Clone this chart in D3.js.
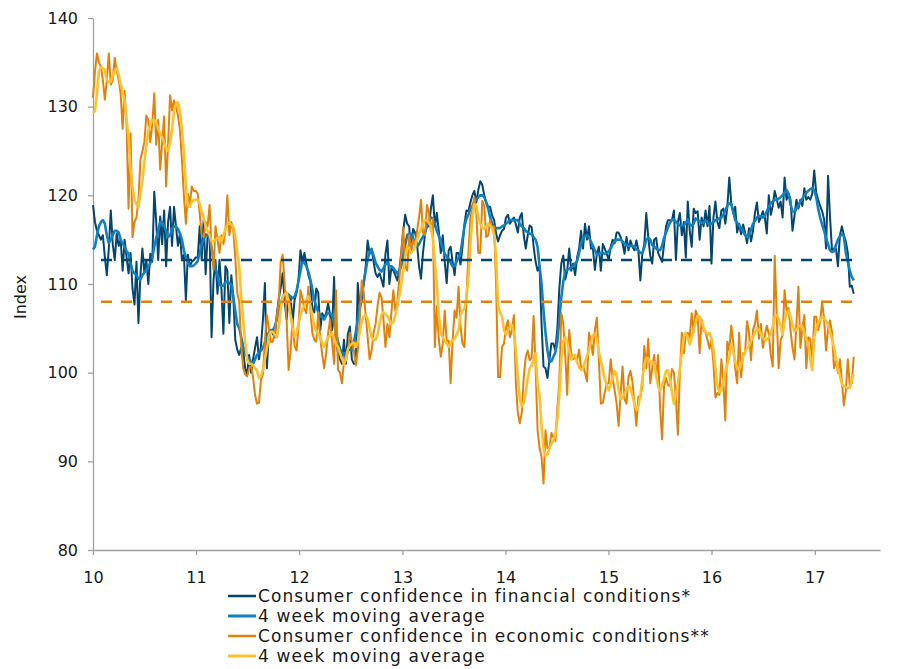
<!DOCTYPE html>
<html>
<head>
<meta charset="utf-8">
<script src="https://cdn.jsdelivr.net/npm/d3@7/dist/d3.min.js"></script>
<style>
  body { margin: 0; background: #fff; }
  svg { display: block; }
  .axis text { font-family: "DejaVu Sans", Verdana, sans-serif; font-size: 16px; fill: #1a1a1a; }
  .axis path, .axis line { stroke: #a0a0a0; stroke-width: 1.3; }
</style>
</head>
<body>
<svg id="chart" width="907" height="669"></svg>
<script>
// weekly series, first week of 2010 onwards
var financial = [
  118.9, 117, 116, 115.5, 115, 115.5, 113, 111, 114, 118.3,
  114.5, 112.7, 115.7, 114.3, 115, 111.5, 115, 113, 111.2, 113.5,
  109.5, 107.7, 112.5, 105.6, 111, 114, 111.3, 112.7, 110, 113.4,
  112.5, 120.4, 117, 112.7, 117.6, 114.5, 118.3, 112, 117, 118.7,
  114.3, 118.7, 116.5, 114.3, 115.7, 112.7, 113.3, 108.2, 113.3, 112,
  112.5, 112.7, 113, 113, 116.5, 112.7, 117.2, 111.1, 115.5, 115.8,
  104, 110.5, 112.7, 108.9, 112.7, 109.5, 104.4, 112, 111.5, 105.6,
  111, 108.6, 103.7, 102.6,
  102, 102.8, 102.5, 100.5, 99.8, 102, 100, 101.5, 102.8, 104,
  101.5, 103, 106, 110.1, 100.5, 104.5, 104.8, 104.4, 104, 106.5,
  108.3, 109.6, 111.2, 108, 106, 108.6, 108.6, 105.5, 108.2, 109,
  110.5, 113.8, 112.5, 113.5, 112.3, 111, 110.3, 107.2, 106.8, 109.5,
  109, 104.8, 106.7, 106.2, 106.7, 107.8, 106.5, 104.8, 110.8, 103.7,
  102.2, 101.5, 101, 103.7, 101, 104.4, 105.2, 101.5, 101, 101,
  110.1, 107.1, 108.2, 110, 112, 114.9, 113.4, 114, 112.5, 111.2,
  110.8, 111.2, 110.5, 109.7, 113.4, 114.9,
  110, 111.8, 111.5, 111, 110.4, 111.5, 113.5, 116, 117.8, 116.8,
  116.5, 113.5, 116.2, 115.8, 114.5, 112, 110.6, 113.5, 115.5, 117,
  116.5, 118.5, 120, 116.5, 118, 116, 113.5, 115.5, 112.5, 110.1,
  113.8, 114.2, 112.5, 111, 113.5, 113.5, 112.2, 114.2, 116.8, 118.3,
  118.2, 119.2, 120, 120.5, 119.2, 120.6, 121.6, 121.2, 120, 119.2,
  118.7, 118.7, 117.7, 117.2, 115.7, 114.8, 115.5, 116, 116.2, 117.5,
  117.8, 116.8, 117.2, 117.5, 116.7, 115.8, 117.5, 118, 115.5, 114,
  115.5, 116.6, 116.4, 114.2, 112.5, 111.5,
  112, 105.5, 100.7, 100.5, 99.4, 101.5, 103.3, 103.3, 102.5, 105,
  109.5, 112.3, 113.2, 110.5, 111.5, 114, 111.5, 112.3, 111, 113,
  114, 116, 114, 116.8, 115, 116.5, 114, 114, 111.6, 113.4,
  114.2, 111.5, 114.5, 114, 113.4, 112.7, 114.2, 115, 114.6, 115.8,
  115.8, 115.3, 114.6, 113.4, 115.3, 113.8, 114.9, 114.2, 113.8, 114.9,
  113.8, 110.4, 113.4, 114.5, 118, 115.3, 113.2, 112.3, 115, 115.2,
  113.5, 113, 112.5, 114.5, 116.5, 117.2, 117.2, 117.2, 118.3, 112.7,
  117, 118, 115.5, 117, 113, 119.3,
  116, 114.2, 118.5, 118, 118.2, 115, 117.5, 116.5, 118.3, 116.5,
  118.8, 112.3, 117.5, 119.3, 117, 116.3, 118.3, 118.5, 116.8, 118.6,
  122, 119.2, 118, 118.7, 115.8, 116.8, 115.6, 116.7, 115.8, 114.6,
  116.3, 114.8, 116, 118, 119.2, 117, 117.5, 118.2, 117.5, 115.7,
  120, 117.8, 118.8, 120.5, 119.6, 118.6, 119.3, 117.5, 122, 119.5,
  120.2, 119.5, 116, 117.7, 119.5, 118.5, 119.5, 118.8, 120.8, 119.5,
  119.8, 119.5, 120.2, 122.8, 120.3, 119.5, 118.8, 118.2, 117.3, 114,
  122.2, 117.5, 113.8, 114, 114, 112, 115.5, 116.5, 115.5, 114.8,
  113.5, 109.7, 109.8, 108.9
];

var financialAvg = [
  113.9, 114.2, 115.5, 116.5, 117, 117.2, 116.8, 115.5, 114.6, 115,
  115.5, 116, 116, 115.8, 115, 114.6, 114.2, 113.7, 113.4, 112.3,
  111.5, 111.2, 111, 110.6, 110.5, 111, 111.3, 111.6, 112, 112.3,
  113, 114.2, 115.2, 116, 117, 117, 116.5, 116, 115.3, 115.5,
  116.2, 116.5, 116.5, 116.2, 115.7, 115, 113.8, 113, 112.5, 112,
  112, 112.1, 112.3, 112.6, 113.5, 114.5, 115, 115.6, 115.5, 115.2,
  114, 113, 111.8, 111, 109.9, 109.8, 109.8, 110.2, 110.3, 110.1,
  110, 108.5, 107, 105.5,
  105, 104, 103, 102.2, 101.8, 101.5, 101.2, 101, 101.5, 102,
  102.2, 102.5, 102.8, 103.4, 104, 104.5, 104.8, 104.8, 105.2, 106,
  107, 107.7, 108.5, 109, 109, 108.8, 108.6, 108.4, 108.6, 109.2,
  110.3, 111.5, 112.5, 112.4, 112, 111.4, 110.5, 109.4, 108.2, 107.5,
  106.8, 106.5, 106.3, 106, 106.5, 106.7, 106.7, 106.5, 105.5, 104.5,
  103.5, 102.7, 102.2, 102.2, 102.2, 102.5, 102.6, 102.5, 103.4, 104.6,
  106, 107.6, 108.8, 110.2, 111.5, 112.8, 113.6, 113.9, 113.2, 112.4,
  112, 111.6, 111.4, 111.8, 112.2, 112.5,
  112, 112, 111.8, 111.5, 111.2, 111.5, 112, 113.3, 114.4, 115.5,
  115.7, 115.7, 115.2, 114.5, 114.2, 114.5, 115, 115.3, 115.8, 116.5,
  117, 117.5, 117.4, 116.8, 116, 115.4, 114.8, 114, 113.4, 113.1,
  112.8, 112.4, 112, 112, 112.5, 113, 113.5, 115, 116.5, 117.4,
  117.8, 118.5, 118.8, 119.3, 119.5, 119.8, 120, 120, 119.8, 119.2,
  118.5, 117.5, 116.8, 116.5, 116.3, 116.3, 116.3, 116.5, 116.6, 116.8,
  117, 117.2, 117.2, 117.2, 117.2, 117.2, 116.8, 116.5, 116.3, 116,
  115.8, 115.7, 115.6, 115.3, 115, 114.2,
  112, 110, 107, 104.5, 102.5, 101.2, 101.3, 101.8, 102.3, 103.5,
  106, 108.5, 110.3, 111.4, 111.6, 111.7, 111.9, 112, 112.3, 112.6,
  113.5, 114.5, 115.2, 115.4, 115.5, 115.2, 114.8, 114.3, 113.8, 113.3,
  113.4, 113.5, 113.5, 113.4, 113.5, 113.7, 114, 114.5, 114.8, 115,
  115, 115, 114.8, 114.6, 114.4, 114.3, 114.3, 114.3, 114.2, 113.9,
  113.8, 113.5, 113.5, 114.1, 115, 115.2, 115, 114.4, 114.2, 114,
  113.8, 113.8, 114.3, 115.2, 115.8, 116.4, 116.9, 117.2, 117.3, 117,
  116.8, 116.6, 116.6, 116.6, 116.9, 117.3,
  116.7, 116.6, 116.8, 117.4, 117.2, 117.1, 116.9, 116.9, 117.1, 117,
  116.7, 116.8, 117, 117.2, 117.3, 117.4, 117.5, 117.8, 118.3, 118.8,
  119.1, 119, 118.2, 117.2, 116.9, 116.6, 116.3, 115.9, 115.5, 115.3,
  115.5, 116.1, 116.8, 117.1, 117.5, 117.7, 117.6, 117.5, 117.7, 118.2,
  118.7, 119.1, 119.3, 119.5, 119.5, 119.6, 119.8, 120, 120.3, 120.6,
  120.2, 119, 118.2, 118.1, 118.5, 118.9, 119.3, 119.6, 120, 120.3,
  120.5, 120.7, 120.8, 120.6, 119.8, 118.5, 117.5, 116.7, 116, 115.2,
  114.5, 113.8, 113.6, 113.7, 114.4, 115, 115.4, 115.6, 115.4, 113.5,
  112.5, 111.5, 110.8, 110.4
];

var economic = [
  131, 134, 136, 135, 134.5, 133, 130.8, 133, 136, 132.5,
  133, 135.5, 134, 133, 131.5, 127.5, 131.8, 127.8, 118.5, 127,
  115.3, 117, 117.5, 119.5, 124, 125, 126, 129, 128.5, 126,
  128, 131.5, 125.7, 128.5, 122.9, 126, 128.9, 121, 125.7, 131.3,
  129.6, 130.7, 130, 129, 127.4, 124, 120, 116.8, 120.2, 119,
  121, 120.5, 120.5, 120.2, 118, 115.5, 115.3, 117, 116.5, 118.9,
  114, 111.6, 116.5, 115, 113.5, 115.5, 114.5, 116, 120, 115.5,
  117, 116, 113, 109,
  108, 103, 100.5, 99.8, 99.6, 100.5, 100.7, 99.5, 97.5, 96.5,
  96.6, 99.2, 99.8, 103.7, 106.5, 105, 103.5, 103.5, 104.6, 106.3,
  108, 112.5, 113.3, 110, 105.9, 100.3, 102.5, 106, 103, 102.5,
  105.2, 109.3, 108.4, 107.2, 106.7, 109.7, 107, 104.5, 103.7, 103.5,
  106.8, 104, 102, 100.5, 102.2, 104.5, 106, 103.5, 101, 109.3,
  100.3, 100, 98.8, 101.3, 101.5, 102.3, 104.5, 103.5, 102.5, 100.8,
  102.5, 106, 110.4, 109, 106.5, 104, 101.5, 102.5, 104.5, 105.5,
  107.5, 109, 108.5, 106, 102.9, 105.5,
  104, 106.7, 109.3, 107, 108, 110.5, 113.5, 116.4, 112, 111.5,
  115.5, 114, 115, 114.3, 116, 117.5, 119.5, 115.8, 115.5, 118.9,
  118, 116, 117.3, 102.9, 107.5, 103.8, 101.8, 103.3, 107, 103.6,
  103.6, 98.8, 103.7, 107, 106.2, 109.7, 105.2, 103.3, 102.9, 108.5,
  113.5, 117.5, 118.5, 119.8, 118, 113.5, 113.5, 119.4, 118.8, 115.3,
  115.5, 117.2, 116.3, 116.5, 110, 99.5, 99.5, 102.9, 103.3, 105,
  105.9, 104, 104.8, 106.5, 98.8, 95.5, 94.3, 95.5, 99.5, 101.8,
  102.5, 101.4, 101.7, 106.4, 100.5, 93.5,
  91.5, 90.5, 87.5, 93.5, 91.5, 91.5, 93.2, 92.7, 92.3, 96,
  99, 106.7, 105.5, 102, 97.5, 104.8, 102.2, 101.5, 101.8, 101.4,
  102.6, 100.5, 100.7, 100, 99, 104.5, 103.5, 102, 104.8, 106.2,
  101.5, 96.5, 96.6, 97.8, 98.8, 98.8, 101.5, 99.3, 98, 96.5,
  94, 97.5, 100.7, 97, 96.5, 99.5, 100.2, 99, 96.5, 94,
  97.3, 97.2, 98.5, 103, 100.5, 103.8, 98.8, 100.5, 102, 99.5,
  102, 96, 92.5, 98.5, 99.4, 98.6, 98.5, 100.4, 100, 97,
  93, 100, 104.5, 102.2, 104.3, 104.5,
  104, 106.7, 104.5, 107, 106.4, 102.2, 106, 104.8, 104.5, 103.7,
  102.7, 103.7, 101, 97.2, 97.7, 97.5, 101.5, 99, 94.6, 103.5,
  102.5, 105.3, 103.4, 100.5, 98.8, 104.5, 99.5, 102.2, 102.2, 105.8,
  104.5, 101.4, 104.8, 105.5, 107, 103.8, 105.5, 102.8, 104.2, 105.3,
  104.4, 102, 100.7, 113.2, 106.5, 100.5, 103.7, 104.2, 109.3, 107,
  107.3, 104.8, 102.8, 101.5, 105.5, 109.7, 102.8, 105, 106.5, 100.5,
  104, 103.8, 101, 106.3, 106.3, 104.8, 105.8, 108, 106, 102.5,
  105, 105.9, 104.5, 100.5, 101.4, 100, 101.5, 99, 96.3, 98,
  101.5, 98.5, 98.8, 101.8
];

var economicAvg = [
  129.3, 129.5, 131.5, 134, 134.5, 134.3, 134.2, 133, 132.8, 132.8,
  133.5, 134, 134.3, 133.6, 132.5, 131.7, 130.6, 128.5, 126.5, 122.9,
  121, 119.5, 119, 118.7, 120.3, 121.7, 123.8, 125.5, 127.2, 128,
  128.5, 128.5, 128.2, 127.5, 127, 126.5, 126, 125.2, 125, 126,
  127.4, 129.5, 130.3, 130.5, 129.5, 127.5, 124.7, 121, 118.8, 118.7,
  119.3, 119.5, 119.5, 119.5, 119, 118.2, 117.5, 116.5, 116, 115.5,
  114.8, 114.8, 115, 115.2, 115.3, 114.8, 115.5, 116.2, 116.7, 116.9,
  116.7, 116.4, 115.3, 113.5,
  112, 108.5, 105.9, 103.5, 101.5, 101, 101, 100.8, 100.5, 100.2,
  99.4, 99.6, 100.3, 101.5, 102.7, 104.2, 104.6, 104.6, 104.3, 104,
  105.2, 107.2, 108.6, 108.8, 109, 108, 106.5, 105, 104, 104.5,
  105.5, 106.5, 107.2, 107.5, 108.2, 108.6, 107.5, 106.4, 105.2, 104.7,
  104.4, 104, 103.3, 102.9, 103.5, 104, 104.2, 104.4, 103.9, 103.2,
  102.9, 102.2, 101.6, 100.9, 101.5, 102.7, 103, 103.3, 103.4, 102.9,
  103.5, 104.6, 105.8, 106.3, 106.5, 106, 105, 104, 103.7, 103.7,
  104.3, 105.5, 106.5, 106.8, 106.6, 106.4,
  105.9, 105.5, 105.7, 106.5, 107.5, 108.7, 110, 111.5, 113, 114.2,
  114, 113.5, 113.8, 114.2, 115, 115.7, 116.2, 116.8, 117.2, 117.2,
  116.9, 116.5, 115, 112.5, 110, 106.5, 104.5, 104, 103.6, 103.3,
  102.9, 103.3, 103.7, 103.8, 104.3, 104.8, 106.5, 107, 107.2, 108.5,
  110.8, 114.5, 117.5, 119, 118.8, 117.5, 116.8, 116.3, 116.2, 116.5,
  116.8, 116.6, 116.3, 115.5, 113, 107.5, 106.8, 106.3, 104.8, 104.3,
  104.8, 105.2, 105.4, 104.5, 102.5, 99.5, 97, 96.2, 96.6, 97.7,
  99.4, 100.5, 100.8, 101.5, 102.2, 98.5,
  97.5, 94, 91.5, 90.6, 90.8, 91.5, 92, 92.3, 93, 94.8,
  97.5, 101.5, 103.5, 104, 103.5, 102.5, 101.5, 101.8, 102, 101.2,
  100.6, 100.3, 100.5, 101.2, 101.9, 102.6, 103.4, 104.2, 104.4, 103.8,
  102.3, 101.3, 100.3, 99.3, 98.6, 98, 98.6, 99.5, 100.2, 99.6,
  98.1, 97, 97.2, 97.6, 98, 98.5, 98.3, 97.4, 96.5, 95.8,
  96.2, 97.5, 99.2, 100.8, 101.7, 101.6, 101.2, 101, 101.2, 99.6,
  98.5, 98, 98.6, 99.3, 100.2, 100.3, 99.2, 97.8, 96.5, 97.5,
  98.8, 100.5, 102.2, 104, 104.5, 104,
  103.2, 104, 104.8, 105.7, 106.4, 106.3, 105.8, 105.1, 104.6, 104.3,
  104.5, 103.8, 102.6, 100.5, 98.6, 97.8, 98, 99, 100.1, 100.9,
  101.8, 103.2, 102.5, 101.3, 100.5, 100.3, 100.9, 101.8, 102.4, 102.7,
  103, 103.6, 104, 104.5, 105, 104.9, 104.4, 103.9, 103.7, 103.7,
  104, 104.4, 105.2, 106.3, 106.5, 106, 105.2, 104.3, 105.8, 106.8,
  107, 106.3, 105.4, 104.7, 104.8, 105.2, 105.3, 105.2, 104.5, 103.8,
  103.2, 101.5, 100.3, 104, 105, 105.6, 106, 106.3, 106.1, 105.8,
  105.4, 104.6, 103.8, 102.8, 101.6, 100.5, 99.6, 98.7, 98.5, 98.4,
  98.2, 98.3, 99.2, 99.8
];

// long-term averages (dashed)
var financialMean = 112.7;
var economicMean = 108.0;

var yTicks = [80, 90, 100, 110, 120, 130, 140];
var legendLabels = [
  "Consumer confidence in financial conditions*",
  "4 week moving average",
  "Consumer confidence in economic conditions**",
  "4 week moving average"
];
var colors = ["#03466f", "#1180c2", "#e2820b", "#fdc12f"];

var startDate = new Date(2010, 0, 1);
var endDomain = new Date(2017, 7, 20);

function weekDate(i) { return d3.timeDay.offset(startDate, i * 7); }

var margin = {top: 18, right: 27, bottom: 119, left: 93},
    width = 907 - margin.left - margin.right,
    height = 669 - margin.top - margin.bottom;

var svg = d3.select("#chart");
var g = svg.append("g")
    .attr("transform", "translate(" + margin.left + "," + margin.top + ")");

var x = d3.scaleTime()
    .domain([startDate, endDomain])
    .range([0, width]);

var y = d3.scaleLinear()
    .domain([80, 140])
    .range([height, 0]);

var xAxis = d3.axisBottom(x)
    .ticks(d3.timeYear.every(1))
    .tickFormat(d3.timeFormat("%y"))
    .tickSize(5)
    .tickSizeOuter(0)
    .tickPadding(17);

var yAxis = d3.axisLeft(y)
    .tickValues(yTicks)
    .tickSize(5)
    .tickSizeOuter(0)
    .tickPadding(10);

g.append("g")
    .attr("class", "x axis")
    .attr("transform", "translate(0," + height + ")")
    .call(xAxis);

g.append("g")
    .attr("class", "y axis")
    .call(yAxis);

// axis title sits a little below the middle of the plot
g.append("text")
    .attr("transform", "translate(-73," + (height / 2 + 13) + ") rotate(-90)")
    .attr("text-anchor", "middle")
    .attr("dy", "0.36em")
    .style("font-family", "DejaVu Sans, Verdana, sans-serif")
    .style("font-size", "16px")
    .style("fill", "#1a1a1a")
    .text("Index");

var line = d3.line()
    .x(function(d, i) { return x(weekDate(i)); })
    .y(function(d) { return y(d); });

var series = [
  {values: financial, color: colors[0], width: 2},
  {values: financialAvg, color: colors[1], width: 2.6},
  {values: economic, color: colors[2], width: 2},
  {values: economicAvg, color: colors[3], width: 2.6}
];

series.forEach(function(s) {
  g.append("path")
      .datum(s.values)
      .attr("fill", "none")
      .attr("stroke", s.color)
      .attr("stroke-width", s.width)
      .attr("stroke-linejoin", "round")
      .attr("d", line);
});

// dashed long-term averages over the whole period
var lastWeek = financial.length - 1;
[[financialMean, colors[0]], [economicMean, colors[2]]].forEach(function(m) {
  g.append("line")
      .attr("x1", x(weekDate(0)))
      .attr("x2", x(weekDate(lastWeek)))
      .attr("y1", y(m[0]))
      .attr("y2", y(m[0]))
      .attr("stroke", m[1])
      .attr("stroke-width", 2.6)
      .attr("stroke-dasharray", "11,9")
      .attr("stroke-dashoffset", 12);
});

// legend below the axis
var legend = svg.append("g")
    .attr("transform", "translate(228,596)");

legendLabels.forEach(function(label, i) {
  var row = legend.append("g").attr("transform", "translate(0," + (i * 20) + ")");
  row.append("line")
      .attr("x1", 0).attr("x2", 28)
      .attr("stroke", colors[i])
      .attr("stroke-width", i % 2 ? 3 : 2.5);
  row.append("text")
      .attr("x", 30)
      .attr("dy", "0.36em")
      .style("font-family", "DejaVu Sans, Verdana, sans-serif")
      .style("font-size", "17px")
      .style("letter-spacing", "1.1px")
      .style("fill", "#1a1a1a")
      .text(label);
});
</script>
</body>
</html>
